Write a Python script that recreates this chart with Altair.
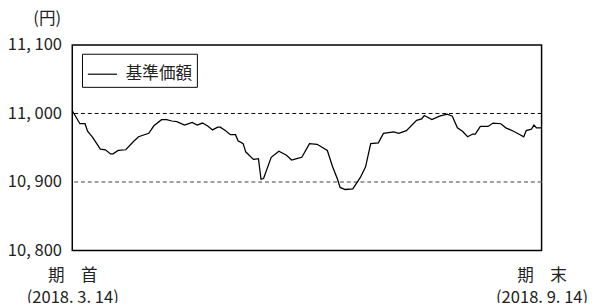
import altair as alt
import pandas as pd

# Day offsets from 2018-03-14 (period start) and NAV values (円)
days = [0, 3, 5, 6, 8, 11, 13, 15, 16, 18, 21, 24, 26, 30, 32, 35, 37, 39, 41, 44,
        47, 49, 51, 53, 55, 57, 58, 60, 62, 64, 65, 67, 68, 71, 73, 74, 75, 78, 81, 84,
        86, 88, 90, 93, 96, 100, 102, 104, 105, 107, 110, 113, 115, 117, 120, 122, 126, 128, 131, 135,
        137, 138, 141, 144, 147, 149, 151, 153, 155, 157, 158, 160, 163, 165, 168, 170, 173, 175, 177, 178,
        180, 181, 182, 184]
nav = [11004, 10985, 10985, 10974, 10965, 10948, 10947, 10941, 10941, 10946, 10947, 10959, 10966, 10971, 10982, 10991, 10991, 10989, 10988, 10983,
       10987, 10983, 10986, 10982, 10976, 10980, 10980, 10975, 10969, 10969, 10960, 10956, 10944, 10933, 10934, 10904, 10905, 10936, 10945, 10939,
       10932, 10934, 10936, 10956, 10955, 10946, 10923, 10904, 10892, 10889, 10890, 10907, 10922, 10956, 10957, 10971, 10973, 10971, 10975, 10990,
       10992, 10997, 10991, 10996, 10999, 10996, 10979, 10974, 10966, 10970, 10970, 10981, 10981, 10986, 10985, 10979, 10974, 10970, 10966, 10975,
       10977, 10983, 10979, 10979]
series_name = "基準価額"
y_ticks = [10800, 10900, 11000, 11100]
ref_lines = [10900, 11000]
x_ticks = [0, 184]

df = pd.DataFrame({"day": days, "nav": nav, "series": series_name})
ref_df = pd.DataFrame({"v": ref_lines})

FONT = "Noto Sans CJK JP"

x_scale = alt.Scale(domain=[0, 184], nice=False, zero=False)
y_scale = alt.Scale(domain=[10800, 11100], nice=False, zero=False)

rules = alt.Chart(ref_df).mark_rule(strokeDash=[4, 3]).encode(
    y=alt.Y("v:Q", scale=y_scale),
    color=alt.condition(alt.datum.v == 11000, alt.value("#000000"), alt.value("#808080")),
    strokeWidth=alt.condition(alt.datum.v == 11000, alt.value(1), alt.value(1.6)),
)

line = alt.Chart(df).mark_line(strokeWidth=1.3).encode(
    x=alt.X("day:Q", scale=x_scale,
            axis=alt.Axis(values=x_ticks, title=None, domain=False, ticks=False, grid=False,
                          labelExpr="datum.value == 0 ? ['期　首', '(2018. 3. 14)'] : ['期　末', '(2018. 9. 14)']",
                          labelFontSize=17, labelFont=FONT, labelColor="#222222",
                          labelPadding=18, labelLineHeight=22, labelAngle=0,
                          labelFlush=False, labelOverlap=False, labelAlign="center")),
    y=alt.Y("nav:Q", scale=y_scale,
            axis=alt.Axis(values=y_ticks, title="(円)", domain=False, ticks=False, grid=False,
                          labelExpr="replace(format(datum.value, ','), ',', ', ')",
                          labelFontSize=17, labelFont=FONT, labelColor="#222222", labelPadding=11,
                          titleAngle=0, titleAlign="right", titleBaseline="middle",
                          titleX=-12, titleY=-27, titleFontSize=17, titleFont=FONT,
                          titleFontWeight="normal", titleColor="#222222")),
    color=alt.Color("series:N", scale=alt.Scale(range=["#000000"]),
                    legend=alt.Legend(title=None, orient="none", legendX=10, legendY=9,
                                      symbolType="stroke", symbolSize=900, symbolStrokeWidth=1.2,
                                      labelFontSize=17, labelFont=FONT, labelColor="#222222",
                                      labelOffset=8, strokeColor="#000000", fillColor="#ffffff",
                                      padding=5)),
)

chart = alt.layer(rules, line).properties(
    width=482, height=211,
    autosize=alt.AutoSizeParams(type="none"),
    padding={"left": 66, "top": 34, "right": 60, "bottom": 50},
).configure_view(stroke="#000000", strokeWidth=1.5)

chart.save("out.html", embed_options={"renderer": "svg", "actions": False})
